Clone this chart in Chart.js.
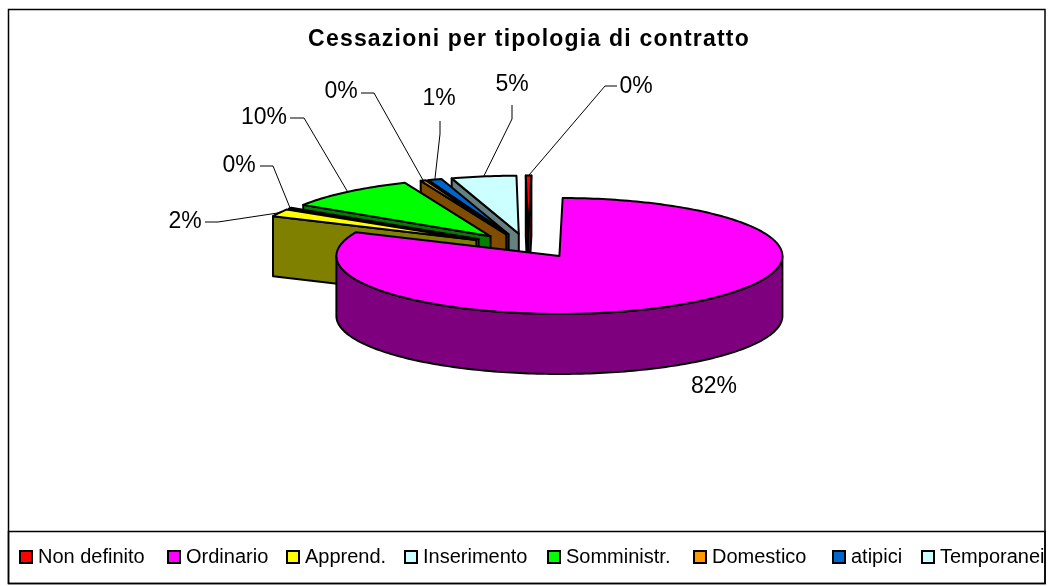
<!DOCTYPE html>
<html lang="it">
<head>
<meta charset="utf-8">
<title>Cessazioni per tipologia di contratto</title>
<script src="https://cdn.jsdelivr.net/npm/chart.js@4"></script>
<style>
  html, body { margin: 0; padding: 0; background: #fff; }
  canvas { display: block; }
</style>
</head>
<body>
<canvas id="grafico" width="1052" height="586"></canvas>
<script>
// Dati (percentuali, in senso orario dall'alto)
const categorie = ['Non definito', 'Ordinario', 'Apprend.', 'Inserimento', 'Somministr.', 'Domestico', 'atipici', 'Temporanei'];
const valori = [0.4, 81.5, 2.1, 0.3, 9.6, 0.4, 1.0, 4.7];
const colori = ['#FF0000', '#FF00FF', '#FFFF00', '#CCFFFF', '#00FF00', '#FF9900', '#0066CC', '#CCFFFF'];

// Posizione delle etichette: centro del testo + punti della linea guida
const etichette = [
  { x: 636, y: 87, guida: [[617, 86], [605, 86]] },
  { x: 714, y: 387, guida: null },
  { x: 185, y: 222, guida: [[205, 222], [218, 222]] },
  { x: 239, y: 166, guida: [[260, 166], [273, 166]] },
  { x: 264, y: 118, guida: [[290, 118], [304, 118]] },
  { x: 341, y: 92, guida: [[361, 93], [374, 93]] },
  { x: 439, y: 99, guida: [[440, 121], [440, 134]] },
  { x: 512, y: 85, guida: [[512, 105], [512, 119]] }
];
const xLegenda = [20, 168, 287, 405, 548, 694, 833, 922];

const CENTRO = { x: 528, y: 245.7 };
const SCHIACCIA = 0.26;   // rapporto assi dell'ellisse
const ALZATA = 0.8;       // lo stacco delle fette in verticale e' un po' minore
const SPESSORE = 60;      // altezza del bordo 3D
const FONT = '"Liberation Sans", Arial, sans-serif';

function scurisci(hex) {
  const n = parseInt(hex.slice(1), 16);
  return `rgb(${(n >> 16) >> 1}, ${((n >> 8) & 255) >> 1}, ${(n & 255) >> 1})`;
}

// Punto a schermo di una fetta, partendo dagli angoli calcolati da Chart.js
function punto(arco, ang, r) {
  const meta = (arco.startAngle + arco.endAngle) / 2;
  const off = (arco.options.offset || 0) / 4;
  const cx = CENTRO.x + Math.cos(meta) * off;
  const cy = CENTRO.y + Math.sin(meta) * off * SCHIACCIA * ALZATA;
  return [cx + Math.cos(ang) * r, cy + Math.sin(ang) * r * SCHIACCIA];
}

function poligono(ctx, punti, riempi) {
  ctx.beginPath();
  punti.forEach((p, i) => (i ? ctx.lineTo(p[0], p[1]) : ctx.moveTo(p[0], p[1])));
  ctx.closePath();
  ctx.fillStyle = riempi;
  ctx.fill();
  ctx.stroke();
}

function campiona(arco, da, a) {
  const pts = [];
  const passi = Math.max(2, Math.ceil(Math.abs(a - da) / 0.02));
  for (let i = 0; i <= passi; i++) {
    pts.push(punto(arco, da + (a - da) * i / passi, arco.outerRadius));
  }
  return pts;
}

const torta3d = {
  id: 'torta3d',
  beforeDraw(chart) {
    // il titolo originale ha le lettere un po' spaziate
    chart.ctx.letterSpacing = '1.2px';
  },
  beforeDatasetsDraw(chart) {
    const ctx = chart.ctx;
    ctx.letterSpacing = '0px';
    const archi = chart.getDatasetMeta(0).data.map((a, i) => ({ a, i }));
    // prima le fette dietro, poi quelle davanti
    archi.sort((p, q) =>
      Math.sin((p.a.startAngle + p.a.endAngle) / 2) - Math.sin((q.a.startAngle + q.a.endAngle) / 2));

    ctx.save();
    ctx.strokeStyle = '#000';
    ctx.lineWidth = 2;
    ctx.lineJoin = 'round';
    archi.forEach(({ a, i }) => {
      const scuro = scurisci(colori[i]);
      const apice = punto(a, 0, 0);
      const giu = p => [p[0], p[1] + SPESSORE];
      // pareti radiali, solo quelle rivolte verso chi guarda
      if (Math.sin(a.startAngle - Math.PI / 2) > 0) {
        const p = punto(a, a.startAngle, a.outerRadius);
        poligono(ctx, [apice, p, giu(p), giu(apice)], scuro);
      }
      if (Math.sin(a.endAngle + Math.PI / 2) > 0) {
        const p = punto(a, a.endAngle, a.outerRadius);
        poligono(ctx, [apice, p, giu(p), giu(apice)], scuro);
      }
      // parete esterna visibile solo davanti
      const giro = Math.PI * 2;
      for (let k = -1; k <= 1; k++) {
        const da = Math.max(a.startAngle, k * giro);
        const fine = Math.min(a.endAngle, k * giro + Math.PI);
        if (fine > da) {
          const bordo = campiona(a, da, fine);
          poligono(ctx, bordo.concat(bordo.slice().reverse().map(giu)), scuro);
        }
      }
      // faccia superiore
      poligono(ctx, [apice].concat(campiona(a, a.startAngle, a.endAngle)), colori[i]);
    });
    ctx.restore();
    return false;
  },
  afterDraw(chart) {
    const ctx = chart.ctx;
    const archi = chart.getDatasetMeta(0).data;
    ctx.save();

    // linee guida e percentuali
    ctx.font = `23px ${FONT}`;
    ctx.textAlign = 'center';
    ctx.textBaseline = 'middle';
    ctx.fillStyle = '#000';
    ctx.strokeStyle = '#000';
    ctx.lineWidth = 1;
    etichette.forEach((et, i) => {
      ctx.fillText(Math.round(valori[i]) + '%', et.x, et.y);
      if (!et.guida) return;
      const a = archi[i];
      const fine = punto(a, (a.startAngle + a.endAngle) / 2, a.outerRadius);
      ctx.beginPath();
      ctx.moveTo(et.guida[0][0], et.guida[0][1]);
      ctx.lineTo(et.guida[1][0], et.guida[1][1]);
      ctx.lineTo(fine[0], fine[1]);
      ctx.stroke();
    });

    // cornice e legenda
    ctx.strokeStyle = '#000';
    ctx.lineWidth = 1.5;
    ctx.strokeRect(8.5, 9.5, 1036.5, 574);
    ctx.strokeRect(8.5, 531.5, 1036.5, 52);

    ctx.font = `20px ${FONT}`;
    ctx.textAlign = 'left';
    categorie.forEach((nome, i) => {
      const x = xLegenda[i];
      ctx.fillStyle = colori[i];
      ctx.lineWidth = 2;
      ctx.fillRect(x, 551, 12, 12);
      ctx.strokeRect(x, 551, 12, 12);
      ctx.fillStyle = '#000';
      ctx.fillText(nome, x + 18, 557);
    });
    ctx.restore();
  }
};

new Chart(document.getElementById('grafico'), {
  type: 'pie',
  data: {
    labels: categorie,
    datasets: [{
      data: valori,
      backgroundColor: colori,
      offset: 234,
      hoverOffset: 0,
      radius: 223
    }]
  },
  options: {
    responsive: false,
    animation: false,
    events: [],
    rotation: -0.6,
    layout: { padding: { left: 6 } },
    plugins: {
      legend: { display: false },
      tooltip: { enabled: false },
      title: {
        display: true,
        text: 'Cessazioni per tipologia di contratto',
        color: '#000',
        font: { family: FONT, size: 23, weight: 'bold' },
        padding: { top: 26, bottom: 10 }
      }
    }
  },
  plugins: [torta3d]
});
</script>
</body>
</html>
